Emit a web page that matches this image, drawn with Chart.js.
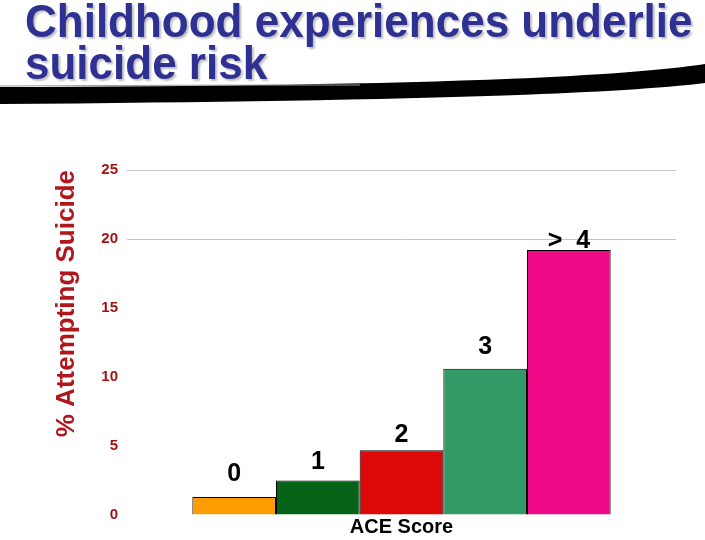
<!DOCTYPE html>
<html>
<head>
<meta charset="utf-8">
<script src="https://cdn.jsdelivr.net/npm/chart.js@4/dist/chart.umd.min.js"></script>
<style>
  html, body { margin: 0; padding: 0; background: #fff; }
  #wrap { position: relative; width: 705px; height: 540px; overflow: hidden; }
  #chartBox { position: absolute; left: 0; top: 0; width: 705px; height: 540px; }
  #title {
    position: absolute; left: 25px; top: 0; white-space: nowrap;
    font: bold 44px "Liberation Sans", Arial, sans-serif; line-height: 40px;
    color: #2e3192; text-shadow: 2px 2px 2px rgba(0,0,0,0.25);
    transform: scaleY(1.05); transform-origin: 0 0;
  }
  #swoosh { position: absolute; left: 0; top: 0; }
</style>
</head>
<body>
<div id="wrap">
  <div id="chartBox"><canvas id="canvas"></canvas></div>
  <svg id="swoosh" width="705" height="120">
    <path d="M0,87 C350,86 600,80 705,64 L705,83 C600,96 350,101 0,104 Z" fill="#000"/>
    <path d="M0,86 C200,85 300,85 360,85" stroke="#999" stroke-width="1" fill="none"/>
  </svg>
  <div id="title">Childhood experiences underlie<br>suicide risk</div>
</div>
<script>
var aceLabels = ['0', '1', '2', '3', '>  4'];
var attemptPct = [1.3, 2.5, 4.7, 10.6, 19.2];
var barColors = ['#ff9c00', '#056418', '#dd0808', '#339966', '#ee0a86'];

// bar number labels drawn over each bar
var barLabels = {
  id: 'barLabels',
  afterDatasetsDraw: function(chart, args, opts) {
    var ctx = chart.ctx;
    ctx.save();
    ctx.font = 'bold 25px "Liberation Sans", Arial, sans-serif';
    ctx.fillStyle = '#000';
    ctx.textAlign = 'center';
    ctx.textBaseline = 'alphabetic';
    chart.data.datasets.forEach(function(ds, i) {
      var bar = chart.getDatasetMeta(i).data[0];
      ctx.fillText(ds.label, bar.x, bar.y - opts.gaps[i]);
    });
    ctx.restore();
  }
};

window.onload = function() {
  var ctx = document.getElementById('canvas').getContext('2d');
  window.myBar = new Chart(ctx, {
    type: 'bar',
    data: {
      labels: ['ACE Score'],
      datasets: aceLabels.map(function(l, i) {
        return {
          label: l,
          data: [attemptPct[i]],
          backgroundColor: barColors[i],
          borderColor: '#000',
          borderWidth: 1,
          barPercentage: 1,
          categoryPercentage: 0.762
        };
      })
    },
    options: {
      responsive: true,
      maintainAspectRatio: false,
      animation: false,
      layout: { padding: { top: 170, right: 29, bottom: 1, left: 0 } },
      plugins: {
        legend: { display: false },
        tooltip: { enabled: false },
        barLabels: { gaps: [16, 12, 8, 15, 2] }
      },
      scales: {
        x: {
          grid: { display: false, drawTicks: false },
          border: { display: false },
          ticks: {
            padding: 0,
            color: '#000',
            font: { family: '"Liberation Sans", Arial, sans-serif', size: 20, weight: 'bold' }
          }
        },
        y: {
          min: 0,
          max: 25,
          afterFit: function(scale) { scale.width = 127; },
          border: { display: false },
          grid: {
            drawTicks: false,
            color: function(c) { return c.tick && c.tick.value >= 20 ? '#c4c4c4' : 'rgba(0,0,0,0)'; }
          },
          ticks: {
            stepSize: 5,
            padding: 9,
            color: '#9e1212',
            font: { family: '"Liberation Sans", Arial, sans-serif', size: 15, weight: 'bold' }
          },
          title: {
            display: true,
            text: '% Attempting Suicide',
            align: 'end',
            color: '#b0171c',
            padding: { top: 51, bottom: 0 },
            font: { family: '"Liberation Sans", Arial, sans-serif', size: 26, weight: 'bold' }
          }
        }
      }
    },
    plugins: [barLabels]
  });
};
</script>
</body>
</html>
